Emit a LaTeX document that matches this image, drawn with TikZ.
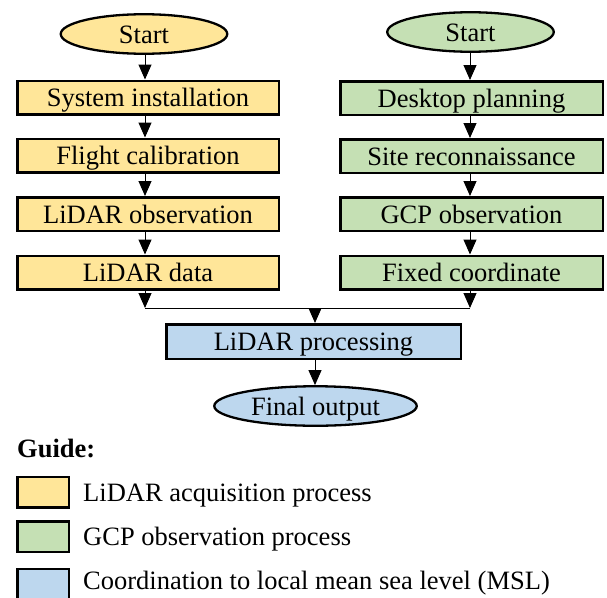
\documentclass[tikz,border=0pt]{standalone}
\usepackage{fontspec}
\setmainfont{Liberation Serif}
\usetikzlibrary{shapes.geometric,arrows.meta}
\definecolor{cy}{HTML}{FFE699}
\definecolor{cg}{HTML}{C5E0B4}
\definecolor{cb}{HTML}{BDD7EE}
\begin{document}
\begin{tikzpicture}[x=1pt,y=-1pt,
  every node/.style={font=\fontsize{26.5}{30}\selectfont, inner sep=0pt, text height=22pt, text depth=4pt},
  box/.style={draw, line width=2.5pt, rectangle, minimum height=33.5pt},
  oval/.style={draw, line width=2.3pt, ellipse, minimum width=166.5pt, minimum height=39.5pt},
  arr/.style={line width=1pt, -{Triangle[width=13pt,length=15pt]}},
  ln/.style={line width=1pt},
  legtext/.style={anchor=west}]
\path[use as bounding box] (0,0) rectangle (607,597);

% left column
\node[oval, fill=cy] (s1) at (144,34) {Start};
\node[box, fill=cy, minimum width=261.5pt] (a1) at (148,97.5) {System installation};
\node[box, fill=cy, minimum width=261.5pt] (a2) at (148,155.5) {Flight calibration};
\node[box, fill=cy, minimum width=261.5pt] (a3) at (148,214) {LiDAR observation};
\node[box, fill=cy, minimum width=261.5pt] (a4) at (148,272.5) {LiDAR data};

% right column
\node[oval, fill=cg] (s2) at (470.5,32) {Start};
\node[box, fill=cg, minimum width=262.5pt] (b1) at (471.5,98) {Desktop planning};
\node[box, fill=cg, minimum width=262.5pt] (b2) at (471.5,156) {Site reconnaissance};
\node[box, fill=cg, minimum width=262.5pt] (b3) at (471.5,214) {GCP observation};
\node[box, fill=cg, minimum width=262.5pt] (b4) at (471.5,272.5) {Fixed coordinate};

% bottom
\node[box, fill=cb, minimum width=294.5pt, minimum height=34.5pt] (p) at (313.5,341.5) {LiDAR processing};
\node[oval, fill=cb, minimum width=202.5pt] (f) at (315.5,406) {Final output};

\coordinate (xl) at (145,0);
\coordinate (xr) at (470,0);
\coordinate (mL) at (145,308);
\coordinate (mR) at (470,308);
\coordinate (mM) at (315,308);

\draw[arr] (xl |- s1.south) -- (xl |- a1.north);
\draw[arr] (xl |- a1.south) -- (xl |- a2.north);
\draw[arr] (xl |- a2.south) -- (xl |- a3.north);
\draw[arr] (xl |- a3.south) -- (xl |- a4.north);
\draw[arr] (xl |- a4.south) -- (mL);

\draw[arr] (xr |- s2.south) -- (xr |- b1.north);
\draw[arr] (xr |- b1.south) -- (xr |- b2.north);
\draw[arr] (xr |- b2.south) -- (xr |- b3.north);
\draw[arr] (xr |- b3.south) -- (xr |- b4.north);
\draw[arr] (xr |- b4.south) -- (mR);

\draw[ln] (mL) -- (mR);
\draw[arr] (mM) -- (mM |- p.north);
\draw[arr] (mM |- p.south) -- (mM |- f.north);

% legend
\node[anchor=base west, font=\fontsize{26.5}{30}\selectfont\bfseries] (g) at (17,457) {Guide:};
\node[box, fill=cy, minimum width=51.5pt, minimum height=30.5pt] (k1) at (43,492) {};
\node[box, fill=cg, minimum width=51.5pt, minimum height=30.5pt] (k2) at (43,536.5) {};
\node[box, fill=cb, minimum width=51.5pt, minimum height=30.5pt] (k3) at (43,584) {};
\node[legtext] (t1) at (83,492) {LiDAR acquisition process};
\node[legtext] (t2) at (83,536.5) {GCP observation process};
\node[legtext] (t3) at (83,580) {Coordination to local mean sea level (MSL)};
\end{tikzpicture}
\end{document}
